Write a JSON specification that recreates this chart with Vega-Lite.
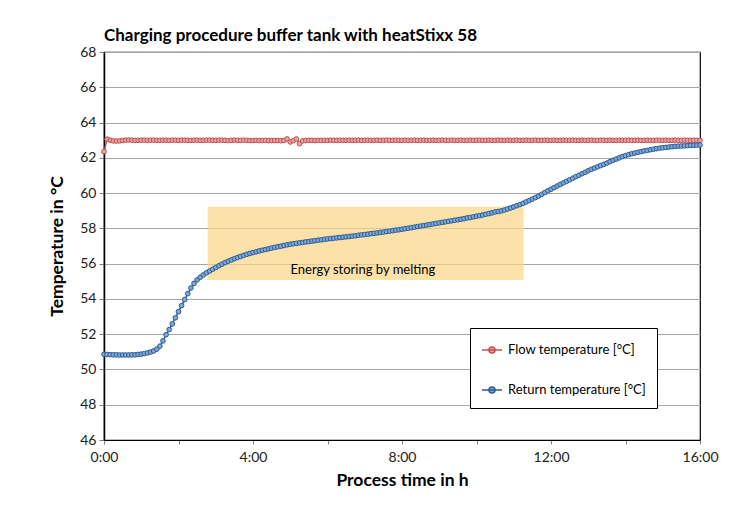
{
  "$schema": "https://vega.github.io/schema/vega-lite/v6.json",
  "width": 596,
  "height": 388,
  "autosize": {"type": "none"},
  "padding": {"left": 104, "top": 52, "right": 54, "bottom": 66},
  "background": "white",
  "config": {
    "font": "Lato",
    "view": {"stroke": "#000", "strokeWidth": 1.2},
    "axis": {"labelOverlap": false, "labelSeparation": 0},
    "axisY": {"labelOverlap": false, "values": [46,48,50,52,54,56,58,60,62,64,66,68],
      "grid": true, "gridColor": "#A6A6A6", "gridWidth": 1, "domainColor": "#000", "domainWidth": 1.5,
      "tickColor": "#808080", "tickSize": 5, "labelFontSize": 14, "labelColor": "#222", "labelPadding": 3,
      "titleFontSize": 17.5, "titleFontWeight": "bold", "titleColor": "#000", "titlePadding": 13},
    "axisX": {"labelOverlap": false, "labelFlush": false,
      "grid": false, "domainColor": "#000", "domainWidth": 1.2, "tickColor": "#808080", "tickSize": 4,
      "labelFontSize": 14, "labelColor": "#222", "labelPadding": 6,
      "titleFontSize": 17.5, "titleFontWeight": "bold", "titleColor": "#000", "titlePadding": 7}
  },
  "title": {"text": "Charging procedure buffer tank with heatStixx 58", "anchor": "start", "frame": "group", "fontSize": 17, "fontWeight": "bold", "color": "#000", "baseline": "alphabetic", "offset": -13},
  "datasets": {
    "zone": [{"t0": 167, "t1": 676, "v0": 55.07, "v1": 59.23, "mid": 417, "ty": 55.64, "label": "Energy storing by melting"}],
    "temps": [
      {"m":0,"f":62.35,"r":50.86},{"m":5,"f":63.06,"r":50.85},{"m":10,"f":63.0,"r":50.84},{"m":15,"f":62.96,"r":50.83},{"m":20,"f":62.95,"r":50.83},
      {"m":25,"f":62.96,"r":50.82},{"m":30,"f":62.98,"r":50.82},{"m":35,"f":63.0,"r":50.82},{"m":40,"f":63.01,"r":50.82},{"m":45,"f":63.0,"r":50.83},
      {"m":50,"f":62.99,"r":50.83},{"m":55,"f":62.99,"r":50.85},{"m":60,"f":63.0,"r":50.87},{"m":65,"f":63.0,"r":50.9},{"m":70,"f":62.99,"r":50.94},
      {"m":75,"f":63.0,"r":50.99},{"m":80,"f":63.0,"r":51.05},{"m":85,"f":62.99,"r":51.15},{"m":90,"f":62.99,"r":51.32},{"m":95,"f":63.0,"r":51.62},
      {"m":100,"f":63.0,"r":51.97},{"m":105,"f":62.99,"r":52.26},{"m":110,"f":63.0,"r":52.58},{"m":115,"f":63.0,"r":52.93},{"m":120,"f":62.99,"r":53.28},
      {"m":125,"f":63.0,"r":53.62},{"m":130,"f":63.0,"r":53.96},{"m":135,"f":62.99,"r":54.3},{"m":140,"f":62.99,"r":54.62},{"m":145,"f":63.0,"r":54.88},
      {"m":150,"f":63.0,"r":55.08},{"m":155,"f":62.99,"r":55.23},{"m":160,"f":62.99,"r":55.36},{"m":165,"f":63.0,"r":55.48},{"m":170,"f":63.0,"r":55.58},
      {"m":175,"f":62.99,"r":55.68},{"m":180,"f":62.99,"r":55.78},{"m":185,"f":63.0,"r":55.88},{"m":190,"f":63.0,"r":55.97},{"m":195,"f":62.99,"r":56.06},
      {"m":200,"f":62.98,"r":56.14},{"m":205,"f":62.99,"r":56.21},{"m":210,"f":63.0,"r":56.28},{"m":215,"f":62.99,"r":56.35},{"m":220,"f":62.99,"r":56.41},
      {"m":225,"f":63.0,"r":56.47},{"m":230,"f":62.99,"r":56.53},{"m":235,"f":62.98,"r":56.58},{"m":240,"f":62.98,"r":56.63},{"m":245,"f":62.99,"r":56.67},
      {"m":250,"f":62.98,"r":56.72},{"m":255,"f":62.98,"r":56.76},{"m":260,"f":62.99,"r":56.8},{"m":265,"f":62.98,"r":56.84},{"m":270,"f":62.98,"r":56.88},
      {"m":275,"f":62.98,"r":56.92},{"m":280,"f":62.98,"r":56.96},{"m":285,"f":62.97,"r":56.99},{"m":290,"f":62.98,"r":57.03},{"m":295,"f":63.07,"r":57.07},
      {"m":300,"f":62.9,"r":57.1},{"m":305,"f":62.97,"r":57.13},{"m":310,"f":63.07,"r":57.15},{"m":315,"f":62.8,"r":57.18},{"m":320,"f":62.96,"r":57.2},
      {"m":325,"f":62.98,"r":57.23},{"m":330,"f":62.99,"r":57.25},{"m":335,"f":62.99,"r":57.28},{"m":340,"f":62.98,"r":57.3},{"m":345,"f":62.99,"r":57.33},
      {"m":350,"f":62.99,"r":57.35},{"m":355,"f":62.99,"r":57.38},{"m":360,"f":62.99,"r":57.4},{"m":365,"f":63.0,"r":57.42},{"m":370,"f":62.99,"r":57.44},
      {"m":375,"f":62.99,"r":57.46},{"m":380,"f":63.0,"r":57.48},{"m":385,"f":62.99,"r":57.5},{"m":390,"f":62.99,"r":57.52},{"m":395,"f":63.0,"r":57.54},
      {"m":400,"f":62.99,"r":57.56},{"m":405,"f":62.99,"r":57.58},{"m":410,"f":63.0,"r":57.61},{"m":415,"f":62.99,"r":57.63},{"m":420,"f":62.99,"r":57.65},
      {"m":425,"f":63.0,"r":57.67},{"m":430,"f":62.99,"r":57.7},{"m":435,"f":62.99,"r":57.72},{"m":440,"f":63.0,"r":57.74},{"m":445,"f":62.99,"r":57.77},
      {"m":450,"f":62.99,"r":57.79},{"m":455,"f":63.0,"r":57.82},{"m":460,"f":62.99,"r":57.84},{"m":465,"f":62.99,"r":57.87},{"m":470,"f":63.0,"r":57.9},
      {"m":475,"f":62.99,"r":57.92},{"m":480,"f":62.99,"r":57.95},{"m":485,"f":63.0,"r":57.98},{"m":490,"f":62.99,"r":58.01},{"m":495,"f":62.99,"r":58.04},
      {"m":500,"f":63.0,"r":58.07},{"m":505,"f":62.99,"r":58.1},{"m":510,"f":62.99,"r":58.13},{"m":515,"f":63.0,"r":58.16},{"m":520,"f":62.99,"r":58.19},
      {"m":525,"f":62.99,"r":58.22},{"m":530,"f":63.0,"r":58.25},{"m":535,"f":62.99,"r":58.28},{"m":540,"f":62.99,"r":58.31},{"m":545,"f":63.0,"r":58.34},
      {"m":550,"f":62.99,"r":58.37},{"m":555,"f":62.99,"r":58.4},{"m":560,"f":63.0,"r":58.43},{"m":565,"f":62.99,"r":58.46},{"m":570,"f":62.99,"r":58.49},
      {"m":575,"f":63.0,"r":58.52},{"m":580,"f":62.99,"r":58.55},{"m":585,"f":62.99,"r":58.59},{"m":590,"f":63.0,"r":58.62},{"m":595,"f":62.99,"r":58.65},
      {"m":600,"f":62.99,"r":58.69},{"m":605,"f":63.0,"r":58.72},{"m":610,"f":62.99,"r":58.76},{"m":615,"f":62.99,"r":58.8},{"m":620,"f":63.0,"r":58.84},
      {"m":625,"f":62.99,"r":58.88},{"m":630,"f":62.99,"r":58.93},{"m":635,"f":63.0,"r":58.96},{"m":640,"f":62.99,"r":58.99},{"m":645,"f":62.99,"r":59.04},
      {"m":650,"f":63.0,"r":59.1},{"m":655,"f":62.99,"r":59.16},{"m":660,"f":62.99,"r":59.22},{"m":665,"f":63.0,"r":59.29},{"m":670,"f":62.99,"r":59.35},
      {"m":675,"f":62.99,"r":59.42},{"m":680,"f":63.0,"r":59.5},{"m":685,"f":62.99,"r":59.58},{"m":690,"f":62.99,"r":59.66},{"m":695,"f":63.0,"r":59.75},
      {"m":700,"f":62.99,"r":59.83},{"m":705,"f":62.99,"r":59.93},{"m":710,"f":63.0,"r":60.03},{"m":715,"f":62.99,"r":60.13},{"m":720,"f":62.99,"r":60.22},
      {"m":725,"f":63.0,"r":60.31},{"m":730,"f":62.99,"r":60.4},{"m":735,"f":62.99,"r":60.49},{"m":740,"f":63.0,"r":60.58},{"m":745,"f":62.99,"r":60.67},
      {"m":750,"f":62.99,"r":60.75},{"m":755,"f":63.0,"r":60.84},{"m":760,"f":62.99,"r":60.93},{"m":765,"f":62.99,"r":61.01},{"m":770,"f":63.0,"r":61.1},
      {"m":775,"f":62.99,"r":61.18},{"m":780,"f":62.99,"r":61.27},{"m":785,"f":63.0,"r":61.35},{"m":790,"f":62.99,"r":61.42},{"m":795,"f":62.99,"r":61.49},
      {"m":800,"f":63.0,"r":61.56},{"m":805,"f":62.99,"r":61.63},{"m":810,"f":62.99,"r":61.7},{"m":815,"f":63.0,"r":61.78},{"m":820,"f":62.99,"r":61.86},
      {"m":825,"f":62.99,"r":61.93},{"m":830,"f":63.0,"r":62.0},{"m":835,"f":62.99,"r":62.07},{"m":840,"f":62.99,"r":62.13},{"m":845,"f":63.0,"r":62.18},
      {"m":850,"f":62.99,"r":62.23},{"m":855,"f":62.99,"r":62.27},{"m":860,"f":63.0,"r":62.31},{"m":865,"f":62.99,"r":62.35},{"m":870,"f":62.99,"r":62.39},
      {"m":875,"f":63.0,"r":62.42},{"m":880,"f":62.99,"r":62.46},{"m":885,"f":62.99,"r":62.49},{"m":890,"f":63.0,"r":62.52},{"m":895,"f":62.99,"r":62.55},
      {"m":900,"f":62.99,"r":62.57},{"m":905,"f":63.0,"r":62.59},{"m":910,"f":62.99,"r":62.61},{"m":915,"f":62.99,"r":62.63},{"m":920,"f":63.0,"r":62.65},
      {"m":925,"f":62.99,"r":62.66},{"m":930,"f":62.99,"r":62.67},{"m":935,"f":63.0,"r":62.68},{"m":940,"f":62.99,"r":62.69},{"m":945,"f":62.99,"r":62.7},
      {"m":950,"f":63.0,"r":62.71},{"m":955,"f":62.99,"r":62.72},{"m":960,"f":62.99,"r":62.73}
    ]
  },
  "layer": [
    {
      "data": {"name": "zone"},
      "mark": {"type": "rect", "color": "#FBD683", "opacity": 0.7},
      "encoding": {
        "x": {"field": "t0", "type": "quantitative", "scale": {"domain": [0, 960], "nice": false, "zero": false},
          "axis": {"title": "Process time in h", "values": [0,60,120,180,240,300,360,420,480,540,600,660,720,780,840,900,960],
            "labelExpr": "datum.value % 240 == 0 ? floor(datum.value/60) + ':00' : ''", "labelOverlap": false}},
        "x2": {"field": "t1"},
        "y": {"field": "v0", "type": "quantitative", "scale": {"domain": [46, 68], "nice": false, "zero": false},
          "axis": {"title": "Temperature in °C", "values": [46,48,50,52,54,56,58,60,62,64,66,68], "labelOverlap": false, "tickCount": 12}},
        "y2": {"field": "v1"}
      }
    },
    {
      "data": {"name": "zone"},
      "mark": {"type": "text", "fontSize": 13, "color": "#000"},
      "encoding": {
        "x": {"field": "mid", "type": "quantitative", "title": "Process time in h"},
        "y": {"field": "ty", "type": "quantitative", "title": "Temperature in °C"},
        "text": {"field": "label"}
      }
    },
    {
      "data": {"name": "temps"},
      "transform": [{"fold": ["f", "r"], "as": ["series", "temp"]}],
      "layer": [
        {
          "mark": {"type": "line", "strokeWidth": 1.5},
          "encoding": {
            "x": {"field": "m", "type": "quantitative", "title": "Process time in h"},
            "y": {"field": "temp", "type": "quantitative", "title": "Temperature in °C"},
            "stroke": {"field": "series", "type": "nominal", "scale": {"domain": ["f", "r"], "range": ["#C0504D", "#2C5D8F"]},
              "legend": {"title": null, "orient": "none", "legendX": 366, "legendY": 276,
                "labelExpr": "datum.label == 'f' ? 'Flow temperature [°C]' : 'Return temperature [°C]'",
                "symbolType": "M-1,0H1M-0.3,0A0.3,0.3,0,1,0,0.3,0A0.3,0.3,0,1,0,-0.3,0Z",
                "symbolSize": 400, "symbolStrokeWidth": 1.5, "labelFontSize": 13, "labelColor": "#000",
                "rowPadding": 22, "padding": 11, "strokeColor": "#000", "fillColor": "#fff", "labelOffset": 5}}
          }
        },
        {
          "mark": {"type": "point", "shape": "circle", "size": 22, "strokeWidth": 1, "opacity": 1},
          "encoding": {
            "x": {"field": "m", "type": "quantitative", "title": "Process time in h"},
            "y": {"field": "temp", "type": "quantitative", "title": "Temperature in °C"},
            "stroke": {"field": "series", "type": "nominal"},
            "fill": {"field": "series", "type": "nominal", "scale": {"domain": ["f", "r"], "range": ["#E8A3A5", "#7FA7D9"]},
              "legend": {"title": null, "orient": "none", "legendX": 366, "legendY": 276,
                "labelExpr": "datum.label == 'f' ? 'Flow temperature [°C]' : 'Return temperature [°C]'",
                "symbolType": "M-1,0H1M-0.3,0A0.3,0.3,0,1,0,0.3,0A0.3,0.3,0,1,0,-0.3,0Z",
                "symbolSize": 400, "symbolStrokeWidth": 1.5, "labelFontSize": 13, "labelColor": "#000",
                "rowPadding": 22, "padding": 11, "strokeColor": "#000", "fillColor": "#fff", "labelOffset": 5}}
          }
        }
      ]
    }
  ]
}
